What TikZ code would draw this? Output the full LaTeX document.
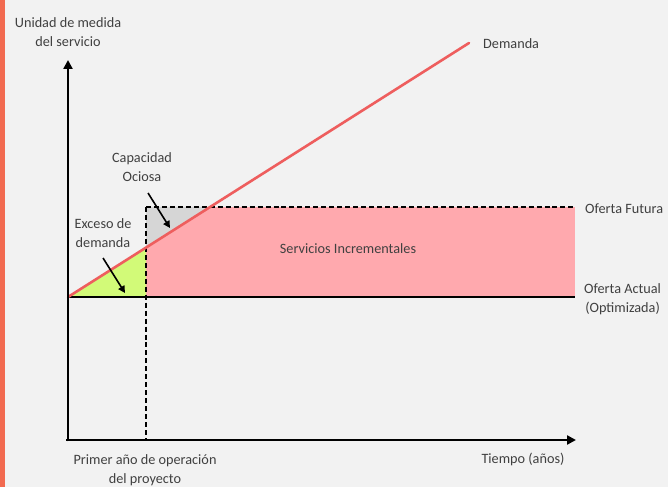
\documentclass[tikz,border=0pt]{standalone}
\usepackage{fontspec}
\setmainfont{Carlito}
\usetikzlibrary{arrows.meta}
\definecolor{bg}{HTML}{F2F2F2}
\definecolor{stripe}{HTML}{F26A50}
\definecolor{demred}{HTML}{EE5E5E}
\definecolor{pinkfill}{HTML}{FFA9AE}
\definecolor{greenfill}{HTML}{D2FA78}
\definecolor{grayfill}{HTML}{D6D6D6}
\definecolor{txt}{HTML}{404040}
\tikzset{
  lbl/.style={font=\fontsize{14.3}{19}\selectfont, text=txt, inner sep=0pt, align=center},
  axis/.style={line width=2.6pt, -{Triangle[length=9pt,width=9pt]}},
  dashln/.style={line width=1.3pt, dash pattern=on 5pt off 3pt},
  pointer/.style={line width=1.6pt, -{Triangle[length=7pt,width=7pt]}},
}
\begin{document}
\begin{tikzpicture}[x=1bp,y=-1bp]
\fill[bg] (0,0) rectangle (668,487);
\useasboundingbox (0,0) rectangle (668,487);
\fill[stripe] (0,0) rectangle (5,487);
% coordinates
\coordinate (O) at (68,297);
\coordinate (D) at (469,43);
\coordinate (P) at (146,247.6);
\coordinate (C) at (210,207);
\coordinate (TL) at (146,207);
\coordinate (TR) at (575,207);
\coordinate (BR) at (575,297);
\coordinate (B146) at (146,297);
\coordinate (X146) at (146,440);
\coordinate (XO) at (66,440);
\coordinate (XE) at (576,440);
\coordinate (YE) at (68,60);
% fills
\fill[pinkfill] (TL) rectangle (BR);
\fill[grayfill] (TL) -- (C) -- (P) -- cycle;
\fill[greenfill] (O) -- (B146) -- (P) -- cycle;
% dashed lines
\draw[dashln] (TL) -- (TR);
\draw[dashln] (TL) -- (X146);
% oferta actual line
\draw[line width=1.6pt] (O) -- (BR);
% demand line
\draw[demred, line width=2.6pt, line cap=round] (O) -- (D);
% axes
\draw[axis] (68,441.3) -- (YE);
\draw[axis] (XO) -- (XE);
% labels
\node[lbl] (ylab) at (68,32) {Unidad de medida\\del servicio};
\node[lbl, anchor=west] (dem) at (483,44) {Demanda};
\node[lbl, anchor=west] (of) at (585,209) {Oferta Futura};
\node[lbl, anchor=west] (oa) at (584,299) {Oferta Actual\\(Optimizada)};
\node[lbl] (si) at (348,249) {Servicios Incrementales};
\node[lbl] (cap) at (142,167) {Capacidad\\Ociosa};
\node[lbl] (exc) at (103,233) {Exceso de\\demanda};
\node[lbl] (pa) at (145,470) {Primer año de operación\\del proyecto};
\node[lbl] (ti) at (523,459) {Tiempo (años)};
% pointers
\coordinate (capA) at (148,193);
\coordinate (capB) at (170,228);
\coordinate (excA) at (103,258);
\coordinate (excB) at (125,293);
\draw[pointer] (capA) -- (capB);
\draw[pointer] (excA) -- (excB);
\end{tikzpicture}
\end{document}
